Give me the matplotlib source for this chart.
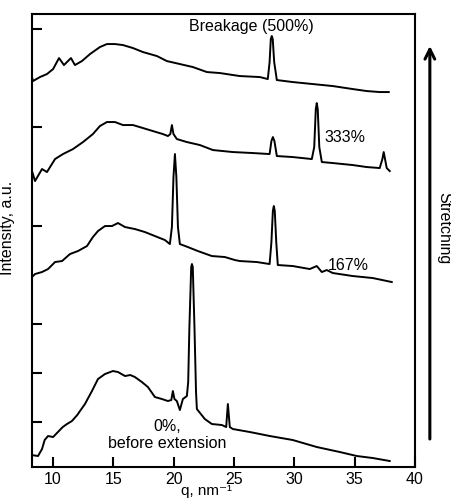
import matplotlib
matplotlib.use("Agg")
import matplotlib.pyplot as plt

plt.rcParams['font.family'] = ['Liberation Sans', 'DejaVu Sans']

# ---- data (q in nm^-1, intensity in arbitrary offset units) ----
q_0 = [8.17, 8.2, 8.75, 9.08, 9.3, 9.58, 10.0, 10.4, 10.8, 11.15, 11.56, 12.0, 12.23,
       12.64, 13.22, 13.72, 14.3, 14.96, 15.38, 15.96, 16.4, 16.78, 17.36, 17.86,
       18.44, 19.02, 19.52, 19.8, 19.93, 20.06, 20.26, 20.51, 20.76, 21.09, 21.2,
       21.3, 21.45, 21.51, 21.58, 21.72, 21.85, 21.92, 22.58, 23.16, 23.99, 24.35,
       24.49, 24.65, 24.9, 26.31, 27.97, 29.87, 31.86, 33.77, 35.18, 36.5, 37.91]
i_0 = [22, 12, 11, 18, 27, 31, 30, 35, 40, 43, 46, 52, 56,
       63, 76, 88, 93, 96, 95, 91, 92, 90, 85, 80,
       70, 68, 66, 67, 76, 68, 66, 57, 68, 71, 85,
       140, 200, 203, 200, 140, 75, 58, 48, 43, 42, 40,
       63, 40, 38, 35, 31, 27, 20, 15, 11, 9, 6]

q_167 = [8.17, 8.25, 8.5, 9.08, 9.58, 10.16, 10.74, 11.4, 12.06, 12.81, 13.3, 13.72,
         14.3, 14.88, 15.38, 15.96, 16.78, 17.61, 18.44, 19.27, 19.68, 19.85, 19.98,
         20.1, 20.22, 20.35, 20.51, 21.17, 22.0, 23.16, 24.24, 25.07, 25.48, 26.89,
         27.95, 28.1, 28.22, 28.3, 28.38, 28.5, 28.63, 29.87, 31.28, 31.86, 32.28,
         32.69, 33.19, 34.84, 36.5, 38.08]
i_167 = [198, 190, 193, 195, 198, 205, 206, 213, 216, 221, 230, 236,
         241, 241, 244, 240, 238, 235, 231, 227, 223, 240, 290,
         313, 290, 240, 223, 220, 216, 211, 210, 207, 206, 205,
         203, 225, 256, 261, 256, 225, 202, 201, 198, 201, 195,
         197, 194, 191, 189, 185]

q_333 = [8.17, 8.25, 8.5, 9.08, 9.49, 10.16, 10.82, 11.65, 12.48, 13.3, 13.88, 14.46,
         15.13, 15.79, 16.62, 17.45, 18.27, 19.1, 19.52, 19.72, 19.85, 19.98, 20.26,
         21.09, 22.17, 23.25, 24.9, 26.56, 27.95, 28.1, 28.22, 28.35, 28.55, 29.87,
         31.45, 31.65, 31.78, 31.86, 31.94, 32.07, 32.28, 33.19, 34.84, 36.0, 37.08,
         37.3, 37.41, 37.52, 37.66, 37.91]
i_333 = [303, 296, 286, 298, 295, 308, 313, 318, 325, 333, 341, 345,
         345, 342, 342, 339, 336, 333, 331, 333, 342, 333, 328,
         325, 322, 317, 315, 314, 313, 326, 330, 326, 311, 310,
         308, 320, 358, 364, 358, 320, 305, 304, 302, 300, 299,
         308, 315, 308, 299, 296]

q_500 = [8.17, 8.25, 8.33, 8.91, 9.49, 10.0, 10.49, 10.9, 11.48, 11.81, 12.39, 13.06,
         13.88, 14.46, 15.13, 15.79, 16.62, 17.45, 18.61, 19.43, 20.51, 21.59, 22.75,
         23.83, 25.48, 27.14, 27.8, 27.95, 28.05, 28.13, 28.21, 28.33, 28.55, 29.87,
         31.53, 33.19, 34.84, 36.0, 37.08, 37.83]
i_500 = [396, 390, 386, 390, 393, 398, 409, 402, 409, 402, 406, 413,
         420, 423, 423, 422, 419, 415, 411, 406, 403, 400, 395,
         394, 391, 390, 388, 405, 428, 431, 428, 405, 387, 385,
         383, 381, 378, 376, 375, 375]

series = [(q_0, i_0), (q_167, i_167), (q_333, i_333), (q_500, i_500)]

x_ticks = [10, 15, 20, 25, 30, 35, 40]
y_ticks = [45, 94, 143, 241, 340, 438]

# ---- figure ----
fig = plt.figure(figsize=(4.52, 5.02), dpi=100)
ax = fig.add_axes([0.0708, 0.0677, 0.8472, 0.9023])

for q, inten in series:
    ax.plot(q, inten, color='black', lw=1.4, solid_joinstyle='round')

ax.set_xlim(8.25, 40)
ax.set_ylim(0, 453)
ax.set_xticks(x_ticks)
ax.set_yticks(y_ticks)
ax.set_yticklabels([])
ax.tick_params(axis='both', direction='in', length=7, width=1.5,
               labelsize=11.5, top=False, right=False, pad=3)
for s in ax.spines.values():
    s.set_linewidth(1.5)

fig.text(0.456, 0.008, 'q, nm\u207b\u00b9', ha='center', va='bottom',
         fontsize=11, family=['Liberation Sans', 'DejaVu Sans'])
ax.set_ylabel('Intensity, a.u.', fontsize=11.5, labelpad=4)
ax.yaxis.set_label_coords(-0.045, 0.53)

fs = 11.5
ax.text(26.48, 442, 'Breakage (500%)', ha='center', va='center', fontsize=fs)
ax.text(32.5, 331, '333%', ha='left', va='center', fontsize=fs)
ax.text(32.75, 203, '167%', ha='left', va='center', fontsize=fs)
ax.text(19.5, 33, '0%,\nbefore extension', ha='center', va='center',
        fontsize=fs, linespacing=1.1)

# stretching arrow on the right
ax.annotate('', xy=(0.951, 0.912), xytext=(0.951, 0.118),
            xycoords='figure fraction', textcoords='figure fraction',
            arrowprops=dict(arrowstyle='->,head_length=0.7,head_width=0.35',
                            lw=2.2, color='black'))
fig.text(0.982, 0.545, 'Stretching', rotation=-90, ha='center', va='center',
         fontsize=fs)

fig.savefig('out.png', dpi=100)
